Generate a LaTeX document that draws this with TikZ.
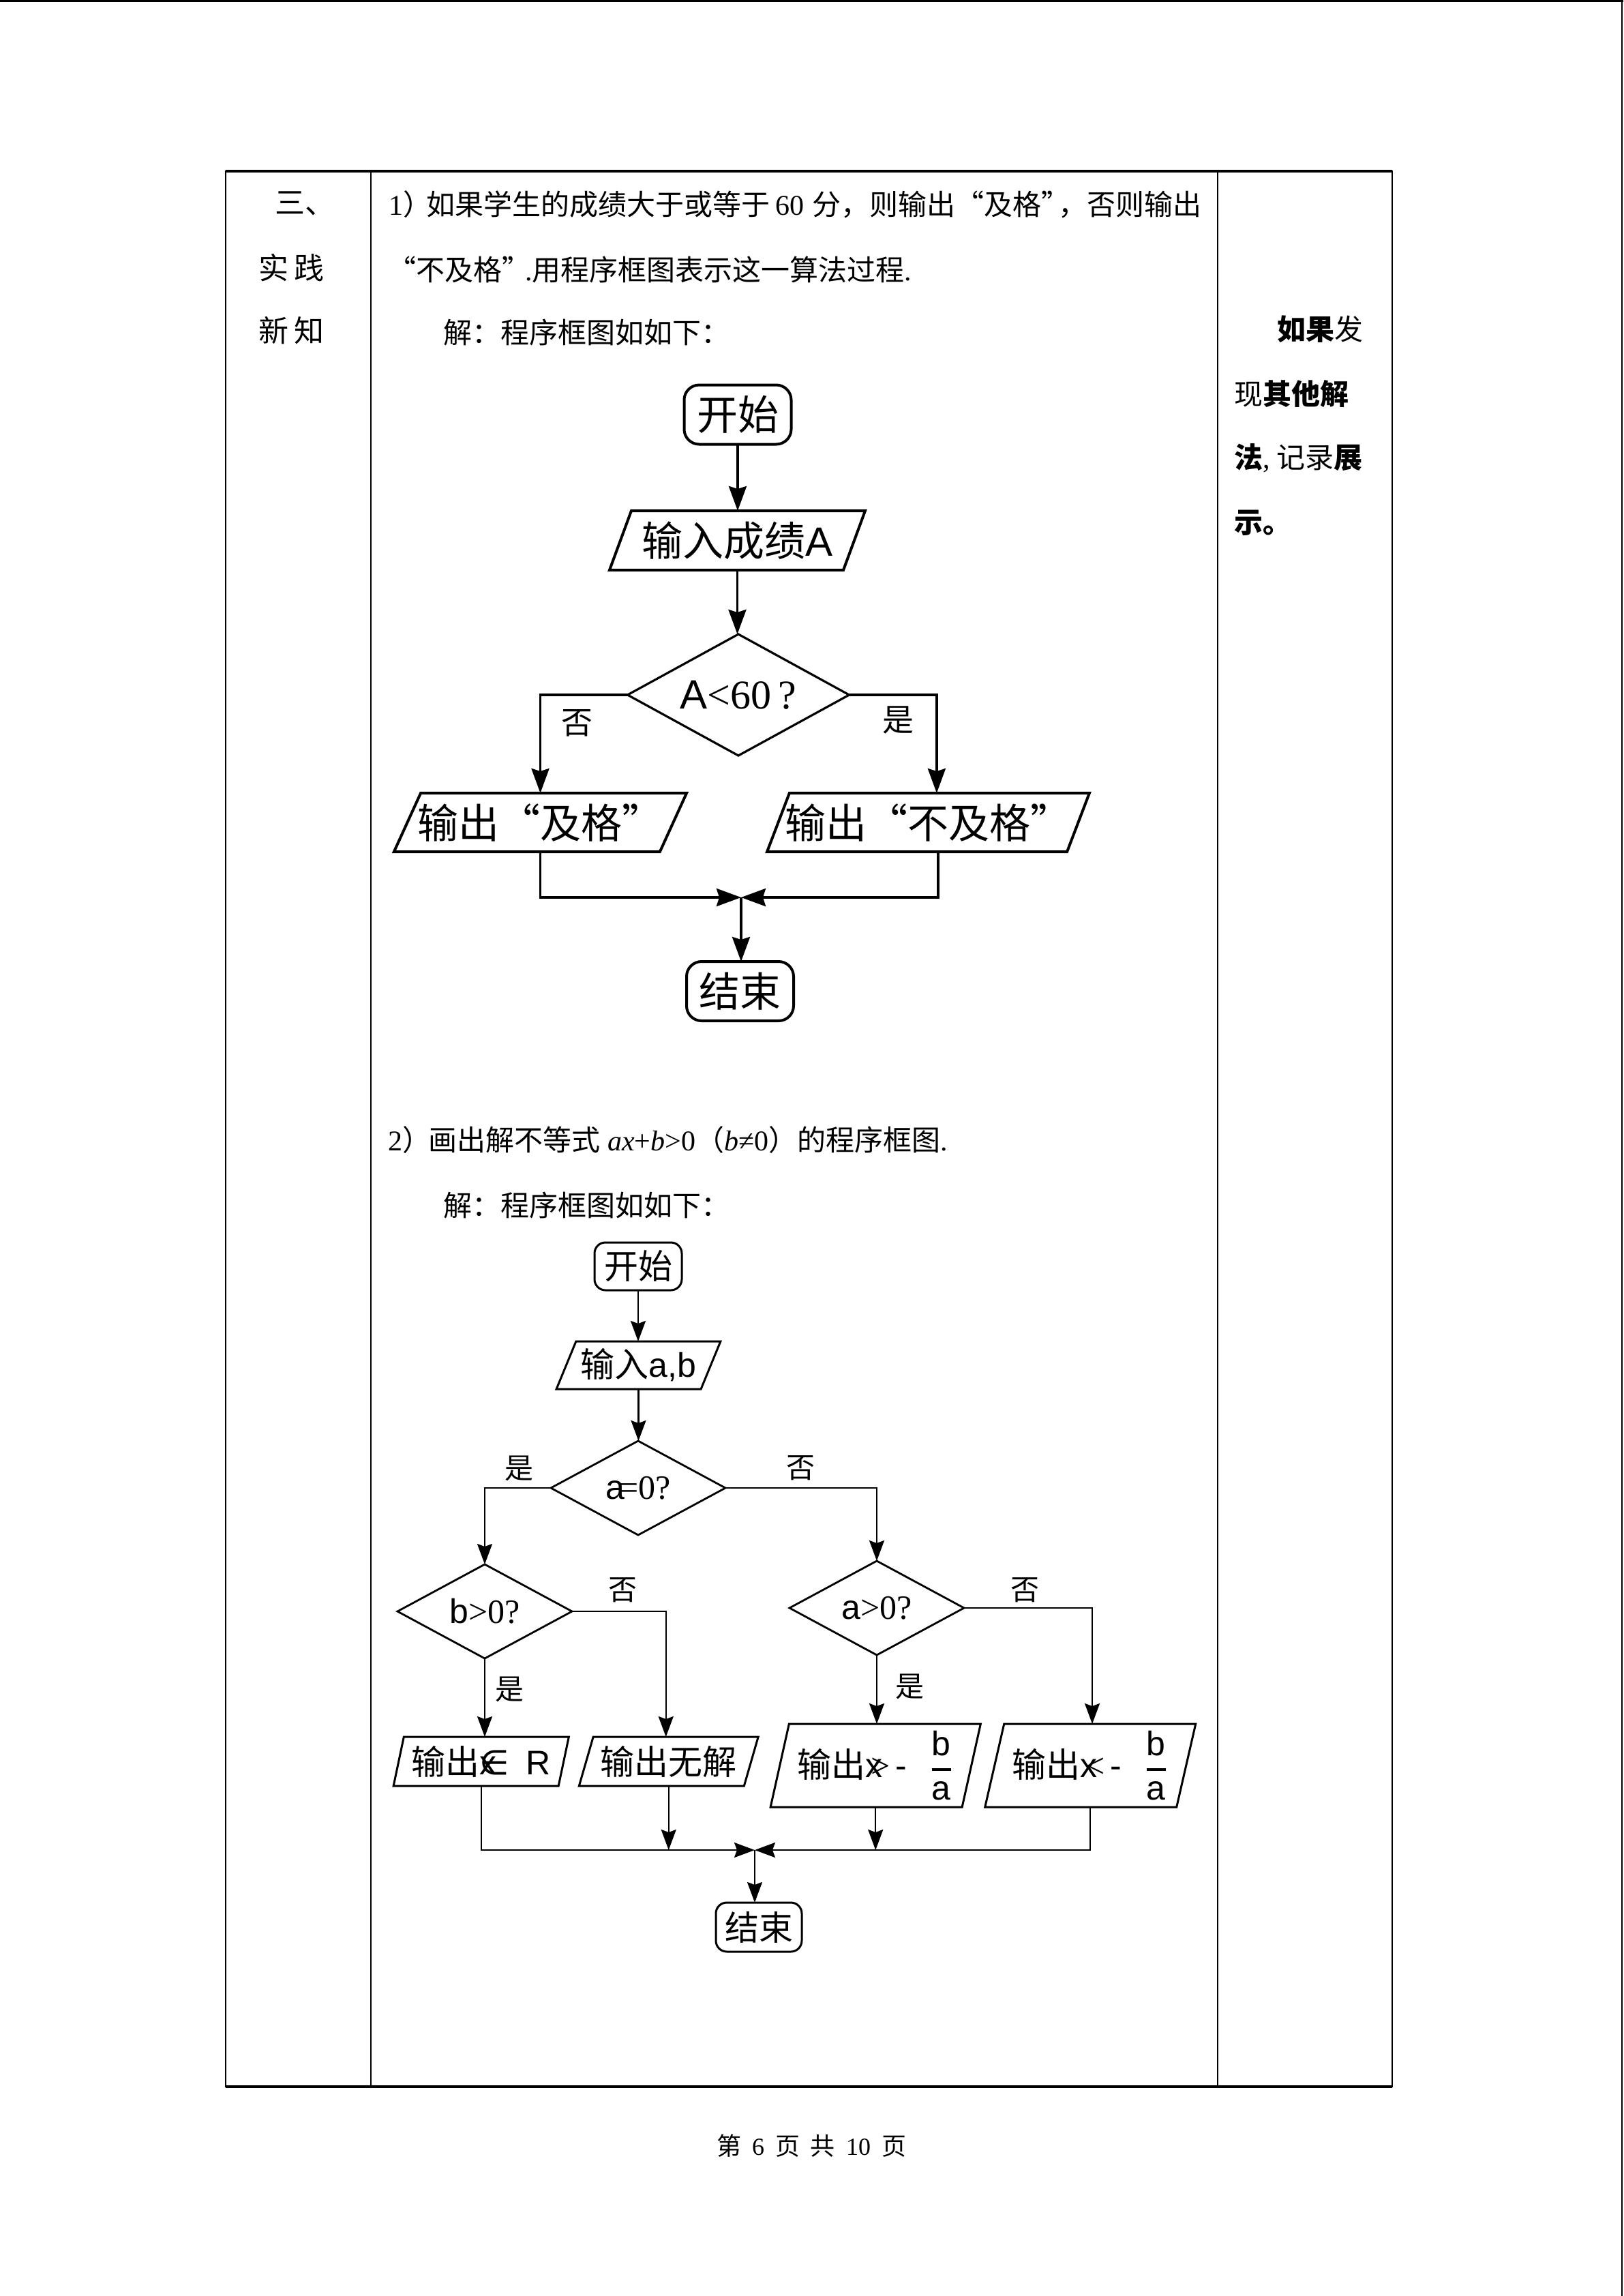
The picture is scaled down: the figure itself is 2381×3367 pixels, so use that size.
\documentclass[tikz,border=0pt]{standalone}
\usepackage{amsmath}
\usepackage{fontspec}
\setmainfont{Liberation Serif}
\newfontfamily\cjk{Noto Sans CJK SC}
\newfontfamily\tmsf{Liberation Serif}
\newfontfamily\arsf{Liberation Sans}
\newfontfamily\djv{DejaVu Sans}
\usetikzlibrary{shapes.geometric,arrows.meta}
\newlength\pxl \setlength\pxl{0.25pt}
\newcommand\drawpara[3]{\draw[#3] ([xshift=#2]#1.north west) -- ([xshift=#2]#1.north east) -- ([xshift=-#2]#1.south east) -- ([xshift=-#2]#1.south west) -- cycle;}
\begin{document}
\begin{tikzpicture}[x=0.25pt,y=-0.25pt,
  txt/.style={anchor=west,inner sep=0pt,font=\cjk\fontsize{10.5pt}{12pt}\selectfont},
  lc/.style={anchor=west,inner sep=0pt,font=\cjk\fontsize{11pt}{12pt}\selectfont},
  rc/.style={anchor=west,inner sep=0pt,font=\cjk\fontsize{10.5pt}{12pt}\selectfont},
  tbl/.style={line width=0.6pt},
  termA/.style={draw,line width=1pt,rounded corners=5.5pt,inner sep=0pt,outer sep=0pt,minimum width=157\pxl,minimum height=87\pxl,font=\cjk\fontsize{15pt}{18pt}\selectfont},
  ioA/.style={inner sep=0pt,outer sep=0pt,minimum height=87\pxl,font=\cjk\fontsize{15pt}{18pt}\selectfont},
  decA/.style={draw,shape=diamond,line width=0.8pt,inner sep=0pt,outer sep=0pt,aspect=1.83,minimum width=325\pxl,minimum height=178\pxl,font=\fontsize{15pt}{18pt}\selectfont},
  labA/.style={inner sep=0pt,font=\cjk\fontsize{11.5pt}{12pt}\selectfont},
  lineA/.style={line width=1pt,line join=miter},
  arrA/.style={-{Stealth[length=9pt,width=6.5pt,inset=1pt]},line width=0.9pt},
  termB/.style={draw,line width=0.75pt,rounded corners=4pt,inner sep=0pt,outer sep=0pt,minimum width=128\pxl,minimum height=70\pxl,font=\cjk\fontsize{12.5pt}{14pt}\selectfont},
  ioB/.style={inner sep=0pt,outer sep=0pt,font=\cjk\fontsize{12.5pt}{14pt}\selectfont},
  decB/.style={draw,shape=diamond,line width=0.7pt,inner sep=0pt,outer sep=0pt,aspect=1.86,minimum width=256\pxl,minimum height=138\pxl,font=\fontsize{12.5pt}{14pt}\selectfont},
  labB/.style={inner sep=0pt,font=\cjk\fontsize{10.5pt}{12pt}\selectfont},
  lineB/.style={line width=0.75pt,line join=miter},
  arrB/.style={-{Stealth[length=7.5pt,width=5.5pt,inset=1pt]},line width=0.6pt}
]
\fill[white] (0,0) rectangle (2381,3367);
\useasboundingbox (0,0) rectangle (2381,3367);
% page frame
\draw[line width=0.75pt] (0,1.5) -- (2381,1.5);
\draw[line width=0.5pt] (2379,0) -- (2379,3367);
% table
\draw[tbl] (331,251) rectangle (2042,3060);
\draw[tbl] (544,251) -- (544,3060);
\draw[tbl] (1786,251) -- (1786,3060);
\draw[line width=0.8pt] (331,251) -- (2042,251);
\draw[line width=0.8pt] (331,3060) -- (2042,3060);
% left column
\node[lc] (l1) at (403,298) {三、};
\node[lc] (l2) at (379,393) {实\kern2pt 践};
\node[lc] (l3) at (379,485) {新\kern2pt 知};
% right column
\node[rc] (r1) at (1873,483) {{\bfseries 如果}发};
\node[rc] (r2) at (1810,578) {现{\bfseries 其他解}};
\node[rc] (r3) at (1810,672) {{\bfseries 法}{\tmsf ,} 记录{\bfseries 展}};
\node[rc] (r4) at (1810,767) {{\bfseries 示。}};
% texts
\node[txt] (t1) at (570,300) {{\tmsf 1}）\kern-0.2em 如果学生的成绩大于或等于{\tmsf\kern2pt 60\kern3pt}分，则输出“及格”\kern-0.4em ，否则输出};
\node[txt] (t2) at (568,395) {“不及格”\kern-0.2em{\tmsf .}用程序框图表示这一算法过程{\tmsf .}};
\node[txt] (t3) at (650,487) {解：程序框图如如下：};
\node[txt] (t4) at (569,1672) {{\tmsf 2}）\kern-0.1em 画出解不等式{\tmsf\ \itshape ax}{\tmsf +}{\tmsf\itshape b}{\tmsf >0}（{\tmsf\itshape b}{\tmsf ≠0}）的程序框图{\tmsf .}};
\node[txt] (t5) at (650,1767) {解：程序框图如如下：};
% footer
\node[inner sep=0pt,font=\cjk\fontsize{9pt}{10pt}\selectfont] (foot) at (1190,3147) {第\hspace{4pt}{\tmsf 6}\hspace{4pt}页\hspace{4pt}共\hspace{4pt}{\tmsf 10}\hspace{4pt}页};

% ---------- chart 1 ----------
\node[termA] (s1) at (1082,608) {开始};
\node[ioA,minimum width=343\pxl] (in1) at (1081.5,792.5) {输入成绩{\arsf A}};
\drawpara{in1}{4pt}{lineA}
\node[decA] (d1) at (1083,1019) {{\arsf A}{\tmsf <60\,?}};
\node[ioA,minimum width=390\pxl,minimum height=86\pxl] (o1L) at (792.5,1206) {输出“及格”};
\drawpara{o1L}{4.9pt}{lineA}
\node[ioA,minimum width=440\pxl,minimum height=86\pxl] (o1R) at (1361.5,1206) {输出“不及格”};
\drawpara{o1R}{4.1pt}{lineA}
\node[termA] (e1) at (1085.5,1453.5) {结束};
\coordinate (m1) at (1087,1316);
\node[labA] (n1) at (846,1060) {否};
\node[labA] (y1) at (1317,1056) {是};
\draw[arrA] (s1.south) -- (s1.south |- in1.north);
\draw[arrA] (in1.south) -- (in1.south |- d1.north);
\draw[arrA] (d1.west) -| (o1L.north);
\draw[arrA] (d1.east) -| ([xshift=3.1pt]o1R.north);
\draw[arrA] (o1L.south) |- (m1);
\draw[arrA] ([xshift=3.6pt]o1R.south) |- (m1);
\draw[arrA] (m1) -- (m1 |- e1.north);

% ---------- chart 2 ----------
\node[termB] (s2) at (936,1857) {开始};
\node[ioB,minimum width=212\pxl,minimum height=70\pxl] (in2) at (936.5,2002) {输入{\arsf a,b}};
\drawpara{in2}{3.6pt}{lineB}
\node[decB] (d2) at (936,2182) {{\arsf a}{\tmsf\kern-2pt =0?}};
\node[decB] (d3) at (711,2363) {{\arsf b}{\tmsf >0?}};
\node[decB] (d4) at (1286,2358) {{\arsf a}{\tmsf >0?}};
\node[ioB,minimum width=242\pxl,minimum height=72\pxl] (p1) at (705.75,2583) {输出{\arsf\rlap{x}}{\djv ∈}\hspace{6pt}{\arsf R}};
\drawpara{p1}{1.9pt}{lineB}
\node[ioB,minimum width=242\pxl,minimum height=72\pxl] (p2) at (980.75,2583) {输出无解};
\drawpara{p2}{2.6pt}{lineB}
\node[ioB,minimum width=281\pxl,minimum height=122\pxl] (p3) at (1284.25,2589) {输出{\arsf\rlap{x}}{\tmsf\kern2pt >}{\arsf\kern2pt -}\hspace{8pt}$\genfrac{}{}{1pt}{0}{\mbox{\arsf b}}{\mbox{\arsf a}}$};
\drawpara{p3}{3.4pt}{lineB}
\node[ioB,minimum width=281\pxl,minimum height=122\pxl] (p4) at (1599.25,2589) {输出{\arsf\rlap{x}}{\tmsf\kern2pt <}{\arsf\kern2pt -}\hspace{8pt}$\genfrac{}{}{1pt}{0}{\mbox{\arsf b}}{\mbox{\arsf a}}$};
\drawpara{p4}{3.5pt}{lineB}
\node[termB,minimum width=126\pxl,minimum height=72\pxl] (e2) at (1113,2826) {结束};
\coordinate (m2) at (1107,2713);
\node[labB] (q1) at (761,2153) {是};
\node[labB] (q2) at (1174,2153) {否};
\node[labB] (q3) at (913,2332) {否};
\node[labB] (q4) at (747,2477) {是};
\node[labB] (q5) at (1503,2332) {否};
\node[labB] (q6) at (1334,2473) {是};
\draw[arrB] (s2.south) -- (s2.south |- in2.north);
\draw[arrB] (in2.south) -- (in2.south |- d2.north);
\draw[arrB] (d2.west) -| (d3.north);
\draw[arrB] (d2.east) -| (d4.north);
\draw[arrB] (d3.south) -- (d3.south |- p1.north);
\draw[arrB] (d3.east) -| ([xshift=-1pt]p2.north);
\draw[arrB] (d4.south) -- (d4.south |- p3.north);
\draw[arrB] (d4.east) -| ([xshift=0.7pt]p4.north);
\draw[arrB] (p1.south) |- (m2);
\draw[arrB] (p2.south) -- (p2.south |- m2);
\draw[arrB] (p3.south) -- (p3.south |- m2);
\draw[arrB] (p4.south) |- (m2);
\draw[arrB] (m2) -- (m2 |- e2.north);
\end{tikzpicture}
\end{document}
